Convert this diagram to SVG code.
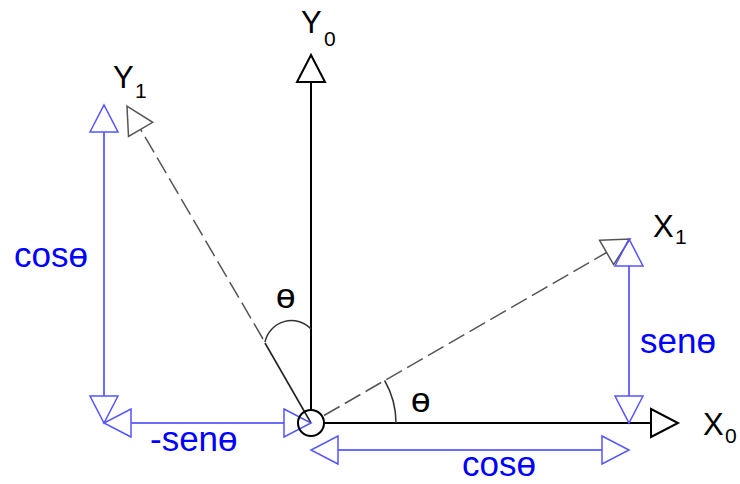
<svg xmlns="http://www.w3.org/2000/svg" width="740" height="484" viewBox="0 0 740 484">
<style>
.axis{stroke:#000;stroke-width:2;fill:none}
.dash{stroke:#555;stroke-width:1.5;fill:none;stroke-dasharray:18 6}
.solid{stroke:#222;stroke-width:1.6;fill:none}
.blue{stroke:#3b3bff;stroke-width:1.5;fill:none}
.arc{stroke:#333;stroke-width:1.5;fill:none}
.lbl{font-family:"Liberation Sans",Arial,sans-serif;fill:#000}
.bl{font-family:"Liberation Sans",Arial,sans-serif;fill:#0000ff;font-size:35px}
.th{font-family:"Liberation Sans",Arial,sans-serif;fill:#000;font-size:35px}
</style>
<defs>
<marker id="ak" markerUnits="userSpaceOnUse" markerWidth="32" markerHeight="32" viewBox="-2 -16 32 32" refX="0" refY="0" orient="auto-start-reverse"><path d="M0,-14 L27,0 L0,14 Z" fill="#fff" stroke="#000" stroke-width="2"/></marker>
<marker id="ag" markerUnits="userSpaceOnUse" markerWidth="32" markerHeight="32" viewBox="-2 -16 32 32" refX="0" refY="0" orient="auto-start-reverse"><path d="M0,-14 L27,0 L0,14 Z" fill="#fff" stroke="#555" stroke-width="1.5"/></marker>
<marker id="ab" markerUnits="userSpaceOnUse" markerWidth="32" markerHeight="32" viewBox="-2 -16 32 32" refX="0" refY="0" orient="auto-start-reverse"><path d="M0,-14 L27,0 L0,14 Z" fill="none" stroke="#5555ff" stroke-width="1.5"/></marker>
</defs>
<g id="connectors">
<line class="axis" x1="311" y1="410" x2="311" y2="82" marker-end="url(#ak)"/>
<line class="axis" x1="324" y1="423" x2="651" y2="423" marker-end="url(#ak)"/>
<line class="dash" x1="324" y1="415.5" x2="606.6" y2="252.5" marker-end="url(#ag)"/>
<line class="dash" x1="263" y1="339" x2="140.6" y2="129.4" marker-end="url(#ag)"/>
<line class="solid" x1="311" y1="423" x2="265" y2="343"/>
<path class="arc" d="M265,342 A27,27 0 0,1 311,329"/>
<path class="arc" d="M384.6,380.5 A85,85 0 0,1 396,423"/>
<line class="blue" x1="629" y1="266" x2="629" y2="396" marker-start="url(#ab)" marker-end="url(#ab)"/>
<line class="blue" x1="104" y1="132" x2="104" y2="396" marker-start="url(#ab)" marker-end="url(#ab)"/>
<line class="blue" x1="131" y1="423" x2="284" y2="423" marker-start="url(#ab)" marker-end="url(#ab)"/>
<line class="blue" x1="338" y1="450" x2="602" y2="450" marker-start="url(#ab)" marker-end="url(#ab)"/>
</g>
<g id="origin"><circle cx="311" cy="423" r="13" fill="none" stroke="#000" stroke-width="2"/></g>
<g id="Y0"><text class="lbl" x="301" y="33" font-size="31">Y<tspan x="324" y="46" font-size="21">0</tspan></text></g>
<g id="Y1"><text class="lbl" x="113" y="88" font-size="31">Y<tspan x="135" y="98" font-size="21">1</tspan></text></g>
<g id="X1"><text class="lbl" x="653" y="237" font-size="31">X<tspan x="675" y="244" font-size="21">1</tspan></text></g>
<g id="X0"><text class="lbl" x="703" y="435" font-size="31">X<tspan x="725" y="443" font-size="21">0</tspan></text></g>
<g id="labels">
<text class="bl" x="14" y="267">cosɵ</text>
<text class="bl" x="640" y="353">senɵ</text>
<text class="bl" x="150" y="451">-senɵ</text>
<text class="bl" x="462" y="476">cosɵ</text>
<text class="th" x="276" y="308">ɵ</text>
<text class="th" x="411" y="412">ɵ</text>
</g>
</svg>
